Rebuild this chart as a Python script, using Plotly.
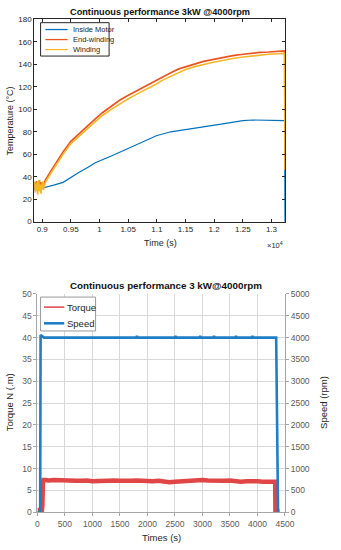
import plotly.graph_objects as go

# ---------------- Top chart data ----------------
t_noise = [8860, 8870, 8880, 8890, 8900, 8910, 8920, 8930, 8940, 8950,
           8960, 8970, 8980, 8990, 9000, 9010, 9020, 9030, 9040]
ew_noise = [33, 29, 35, 30, 36, 31, 28, 34, 30, 37, 32, 29, 35, 31, 33, 30, 34, 32, 35]
wd_noise = [30, 36, 26, 33, 28, 35, 24, 31, 37, 27, 33, 29, 25, 34, 30, 36, 28, 31, 33]

t_rise = [9056, 9150, 9250, 9364, 9500, 9645, 9800, 9926, 10050, 10206,
          10350, 10487, 10650, 10768, 10900, 10992, 11104, 11244, 11384, 11500,
          11665, 11800, 11946, 12100, 12226, 12350, 12507, 12650, 12788, 12950,
          13100, 13230, 13236]
ew_rise = [37, 45, 53, 62, 71.5, 78.5, 86, 91.5, 97, 103,
           108, 112, 116.5, 119.5, 123, 125.5, 129, 132.5, 136, 138,
           140.5, 142.5, 144, 145.5, 147, 148, 149, 150, 150.6, 151,
           151.5, 152, 46]
wd_rise = [35, 43, 51, 60, 69.5, 76, 83.5, 89, 94.5, 100,
           105, 109, 113.5, 116.5, 120, 122.5, 126, 129.5, 133, 135.5,
           138, 140, 141.5, 143, 144.5, 145.5, 146.5, 147.5, 148.3, 149,
           149.5, 149.8, 46]

t_inside = [8860, 8900, 9000, 9100, 9200, 9364, 9500, 9645, 9800, 9926,
            10206, 10487, 10768, 10992, 11244, 11450, 11665, 11946, 12150, 12340,
            12500, 12675, 12850, 13000, 13230, 13236]
v_inside = [28, 28.5, 30, 31, 32.5, 35, 39.5, 44, 48.5, 52.5,
            58.5, 65, 72, 76.5, 80, 81.5, 83, 85, 87, 88.6,
            90, 90.5, 90.3, 90, 90, 0]

top_xticks = [9000, 9500, 10000, 10500, 11000, 11500, 12000, 12500, 13000]
top_xlabels = ["0.9", "0.95", "1", "1.05", "1.1", "1.15", "1.2", "1.25", "1.3"]
top_names = ["Inside Motor", "End-winding", "Winding"]

# ---------------- Bottom chart data ----------------
t_torque = [0, 55, 80, 90, 100, 110, 150, 200, 300, 400, 500, 600, 700, 800, 900,
            1000, 1100, 1200, 1300, 1400, 1500, 1600, 1700, 1800, 1900, 2000,
            2100, 2200, 2300, 2400, 2500, 2600, 2700, 2800, 2900, 3000, 3100,
            3200, 3300, 3400, 3500, 3600, 3700, 3800, 3900, 4000, 4100, 4200,
            4300, 4322, 4326, 4400]
torque = [0.5, 0.5, 0.2, 1.5, 6.8, 7.4, 7.4, 7.3, 7.4, 7.3, 7.2, 7.3, 7.2, 7.2, 7.3,
          7.1, 7.2, 7.1, 7.2, 7.3, 7.2, 7.1, 7.2, 7.3, 7.2, 7.2,
          7.1, 7.2, 7.0, 6.9, 7.0, 7.1, 7.0, 7.1, 7.2, 7.4, 7.3,
          7.2, 7.1, 7.2, 7.3, 7.1, 7.0, 7.1, 7.2, 7.1, 7.0, 7.1,
          7.0, 7.0, 0.3, 0.3]

t_speed = [0, 50, 58, 80, 120, 1800, 1810, 1820, 2500, 2510, 2520, 2950, 2960, 2970,
           3200, 3210, 3220, 3600, 3610, 3620, 3900, 3910, 3920, 4340, 4355, 4374, 4400]
speed = [0, 0, 4060, 4030, 4000, 4000, 4040, 4000, 4000, 4040, 4000, 4000, 4040, 4000,
         4000, 4040, 4000, 4000, 4040, 4000, 4000, 4040, 4000, 4000, 1900, 0, 0]
bottom_names = ["Torque", "Speed"]

c_inside = "#0072BD"
c_end = "#EA5420"
c_wind = "#F6B62A"
c_torque = "#E04646"
c_speed = "#1F7EC6"

W, H = 341, 550
def px(x):
    return x / W
def py(y):
    return 1 - y / H

fig = go.Figure()

# top chart traces
fig.add_trace(go.Scatter(x=t_inside, y=v_inside, mode="lines", name=top_names[0],
                         line=dict(color=c_inside, width=1.2), xaxis="x", yaxis="y",
                         showlegend=False))
fig.add_trace(go.Scatter(x=t_noise + t_rise, y=ew_noise + ew_rise, mode="lines",
                         name=top_names[1], line=dict(color=c_end, width=1.7),
                         xaxis="x", yaxis="y", showlegend=False))
fig.add_trace(go.Scatter(x=t_noise + t_rise, y=wd_noise + wd_rise, mode="lines",
                         name=top_names[2], line=dict(color=c_wind, width=1.6),
                         xaxis="x", yaxis="y", showlegend=False))

# bottom chart traces
fig.add_trace(go.Scatter(x=t_torque, y=torque, mode="lines", name=bottom_names[0],
                         line=dict(color=c_torque, width=4.5), xaxis="x2", yaxis="y2",
                         showlegend=False))
fig.add_trace(go.Scatter(x=t_speed, y=speed, mode="lines", name=bottom_names[1],
                         line=dict(color=c_speed, width=2.6), xaxis="x2", yaxis="y3",
                         showlegend=False))

frame = "#262626"
gray_txt = "#595959"
axline = "#A6A6A6"
grid = "#D9D9D9"

shapes = []
annotations = []

# --- top legend (drawn box) ---
shapes.append(dict(type="rect", xref="paper", yref="paper", x0=px(40), x1=px(111),
                   y0=py(52), y1=py(18), line=dict(color=frame, width=1),
                   fillcolor="white", layer="above"))
for i, (nm, col) in enumerate(zip(top_names, [c_inside, c_end, c_wind])):
    yy = 25 + i * 10.2
    shapes.append(dict(type="line", xref="paper", yref="paper", x0=px(45), x1=px(68),
                       y0=py(yy), y1=py(yy), line=dict(color=col, width=1.3),
                       layer="above"))
    annotations.append(dict(text=nm, x=px(71), y=py(yy), xref="paper", yref="paper",
                            showarrow=False, xanchor="left", yanchor="middle",
                            font=dict(size=7.5, color=frame)))

# --- bottom legend (drawn box) ---
shapes.append(dict(type="rect", xref="paper", yref="paper", x0=px(40), x1=px(97),
                   y0=py(332), y1=py(297.5), line=dict(color="#9A9A9A", width=1),
                   fillcolor="white", layer="above"))
for i, (nm, col, wd) in enumerate(zip(bottom_names, [c_torque, c_speed], [1.5, 2.6])):
    yy = 307.7 + i * 16.5
    shapes.append(dict(type="line", xref="paper", yref="paper", x0=px(43.5), x1=px(64.5),
                       y0=py(yy), y1=py(yy), line=dict(color=col, width=wd),
                       layer="above"))
    annotations.append(dict(text=nm, x=px(65.5), y=py(yy), xref="paper", yref="paper",
                            showarrow=False, xanchor="left", yanchor="middle",
                            font=dict(size=9.5, color=frame)))

annotations += [
    dict(text="<b>Continuous performance 3kW @4000rpm</b>", x=px(164), y=py(7.5),
         xref="paper", yref="paper", showarrow=False, font=dict(size=9.2, color="#111111"),
         xanchor="center", yanchor="middle"),
    dict(text="Time (s)", x=px(164), y=py(242.5), xref="paper", yref="paper",
         showarrow=False, font=dict(size=9, color=frame), xanchor="center", yanchor="middle"),
    dict(text="×10<sup>4</sup>", x=px(283), y=py(244), xref="paper", yref="paper",
         showarrow=False, font=dict(size=7.5, color=frame), xanchor="center", yanchor="middle"),
    dict(text="Temperature (°C)", x=px(8), y=py(118), xref="paper", yref="paper",
         showarrow=False, textangle=-90, font=dict(size=9, color=frame),
         xanchor="center", yanchor="middle"),
    dict(text="<b>Continuous performance 3 kW@4000rpm</b>", x=px(170), y=py(286),
         xref="paper", yref="paper", showarrow=False, font=dict(size=9.8, color="#111111"),
         xanchor="center", yanchor="middle"),
    dict(text="Times (s)", x=px(165), y=py(542), xref="paper", yref="paper",
         showarrow=False, font=dict(size=9.5, color=frame), xanchor="center", yanchor="middle"),
    dict(text="Torque N (.m)", x=px(8), y=py(405), xref="paper", yref="paper",
         showarrow=False, textangle=-90, font=dict(size=9.5, color=frame),
         xanchor="center", yanchor="middle"),
    dict(text="Speed (rpm)", x=px(333), y=py(405), xref="paper", yref="paper",
         showarrow=False, textangle=-90, font=dict(size=9.5, color=frame),
         xanchor="center", yanchor="middle"),
]

fig.update_layout(
    width=W, height=H,
    margin=dict(l=0, r=0, t=0, b=0),
    paper_bgcolor="white", plot_bgcolor="white",
    showlegend=False,
    font=dict(family="Liberation Sans, Arial, sans-serif", color=frame),
    xaxis=dict(domain=[px(33.3), px(293.3)], anchor="y", range=[8859, 13236],
               tickvals=top_xticks, ticktext=top_xlabels, ticks="inside", ticklen=3,
               tickcolor=frame, showline=True, linecolor=frame, linewidth=0.8,
               mirror="ticks", showgrid=False, zeroline=False,
               tickfont=dict(size=8, color=frame)),
    yaxis=dict(domain=[py(220.7), py(14.7)], anchor="x", range=[0, 180], dtick=20,
               ticks="inside", ticklen=3, tickcolor=frame, showline=True,
               linecolor=frame, linewidth=0.8, mirror="ticks", showgrid=False,
               zeroline=False, tickfont=dict(size=8, color=frame)),
    xaxis2=dict(domain=[px(36.7), px(293.3)], anchor="y2", range=[0, 4500], dtick=500,
                ticks="outside", ticklen=3, tickcolor=axline, showline=True,
                linecolor=axline, linewidth=1, showgrid=True, gridcolor=grid,
                gridwidth=1, zeroline=False, tickfont=dict(size=8.5, color=gray_txt)),
    yaxis2=dict(domain=[py(516.7), py(294.3)], anchor="x2", range=[0, 50], dtick=5,
                ticks="outside", ticklen=3, tickcolor=axline, showline=True,
                linecolor=axline, linewidth=1, showgrid=True, gridcolor=grid,
                gridwidth=1.2, zeroline=False, tickfont=dict(size=8.5, color=gray_txt)),
    yaxis3=dict(overlaying="y2", side="right", anchor="x2", range=[0, 5000], dtick=500,
                ticks="outside", ticklen=3, tickcolor=axline, showline=True,
                linecolor=axline, linewidth=1, showgrid=False, zeroline=False,
                tickfont=dict(size=8.5, color=gray_txt)),
    shapes=shapes,
    annotations=annotations,
)

fig.write_html("out.html",
               config={"displayModeBar": False},
               post_script="document.body.style.margin='0';document.body.style.padding='0';")
